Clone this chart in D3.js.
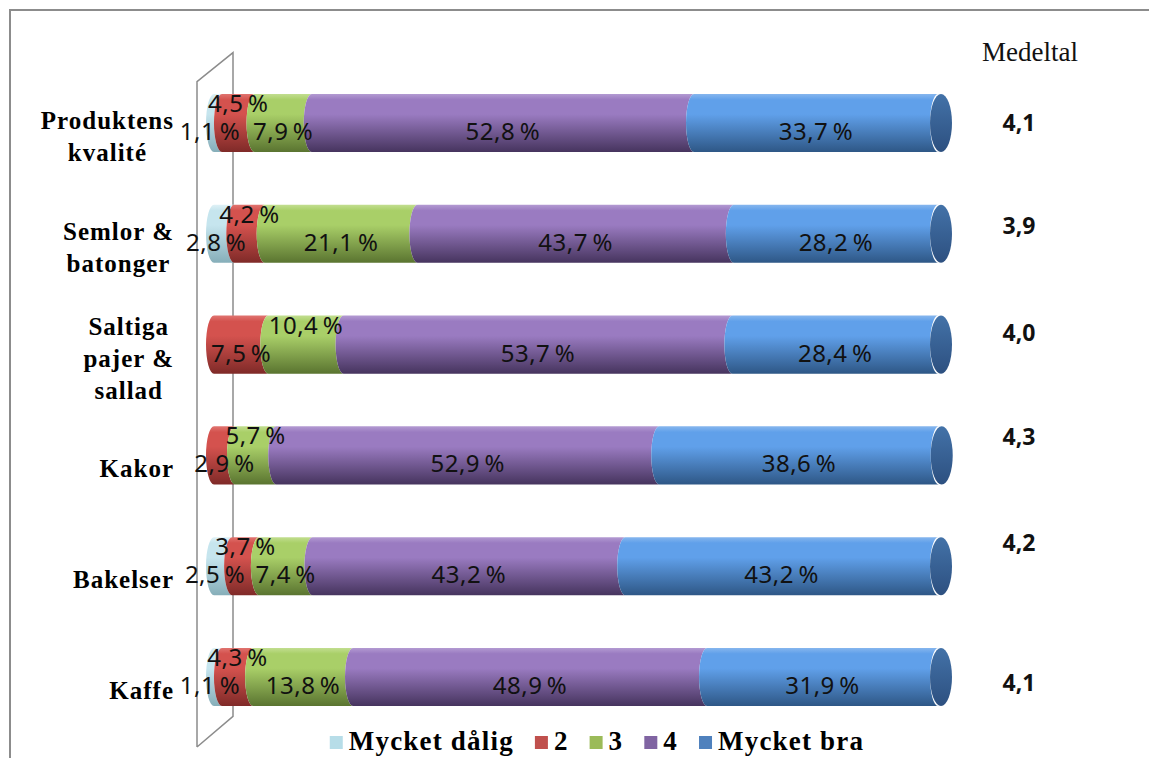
<!DOCTYPE html>
<html>
<head>
<meta charset="utf-8">
<script src="https://cdn.jsdelivr.net/npm/d3@7"></script>
<style>
  body { margin: 0; background: #fff; }
  svg { display: block; }
</style>
</head>
<body>
<svg width="1149" height="758"></svg>
<script>
// betyg per kategori, i procent
const categories = ["Produktens\nkvalité", "Semlor &\nbatonger", "Saltiga\npajer &\nsallad", "Kakor", "Bakelser", "Kaffe"];
const seriesNames = ["Mycket dålig", "2", "3", "4", "Mycket bra"];
const mycketDalig = [1.1, 2.8, 0, 0, 2.5, 1.1];
const betyg2 = [4.5, 4.2, 7.5, 2.9, 3.7, 4.3];
const betyg3 = [7.9, 21.1, 10.4, 5.7, 7.4, 13.8];
const betyg4 = [52.8, 43.7, 53.7, 52.9, 43.2, 48.9];
const mycketBra = [33.7, 28.2, 28.4, 38.6, 43.2, 31.9];
const medeltal = [4.1, 3.9, 4.0, 4.3, 4.2, 4.1];

const flatColors = ["#b7dde8", "#c0504d", "#9bbb59", "#8064a2", "#4f81bd"];
const tubeColors = [
  ["#dff1f6", "#c6e5ee", "#86aeb9"],
  ["#e07470", "#d4524e", "#7f2a28"],
  ["#c2de90", "#a9cf68", "#5a7430"],
  ["#b39ad2", "#9a7bc1", "#46345e"],
  ["#86b6ee", "#60a0ea", "#2e5786"]
];
// small nudges for the hand placed mean values
const meanNudge = [0, -8, -12, -18, -23, 6];

const svg = d3.select("svg");
const width = +svg.attr("width");
const height = +svg.attr("height");

const table = categories.map((c, i) => ({
  cat: c,
  [seriesNames[0]]: mycketDalig[i],
  [seriesNames[1]]: betyg2[i],
  [seriesNames[2]]: betyg3[i],
  [seriesNames[3]]: betyg4[i],
  [seriesNames[4]]: mycketBra[i]
}));
const stacked = d3.stack().keys(seriesNames)(table);

const xScale = d3.scaleLinear().domain([0, 100]).range([214, 938]);
const yScale = d3.scaleBand()
  .domain(categories)
  .range([67.6, 732.4])
  .paddingInner(0.476)
  .paddingOuter(0.238);
const bh = yScale.bandwidth();
const rx = 8;

// gradients for the cylinders
const defs = svg.append("defs");
tubeColors.forEach((c, i) => {
  const g = defs.append("linearGradient").attr("id", "tube" + i)
    .attr("x1", 0).attr("y1", 0).attr("x2", 0).attr("y2", 1);
  g.append("stop").attr("offset", "0").attr("stop-color", c[0]);
  g.append("stop").attr("offset", "0.1").attr("stop-color", c[1]);
  g.append("stop").attr("offset", "0.35").attr("stop-color", c[1]);
  g.append("stop").attr("offset", "1").attr("stop-color", c[2]);
});
const capGrad = defs.append("linearGradient").attr("id", "cap")
  .attr("x1", 0).attr("y1", 0).attr("x2", 0).attr("y2", 1);
capGrad.append("stop").attr("offset", "0").attr("stop-color", "#4372a8");
capGrad.append("stop").attr("offset", "1").attr("stop-color", "#2d5080");

// outer frame
svg.append("path")
  .attr("d", `M10,${height} V10 H${width}`)
  .attr("fill", "none")
  .attr("stroke", "#8c8c8c")
  .attr("stroke-width", 2);

// the 3d wall behind the category axis
const x0 = xScale(0);
const wallTop = yScale.range()[0];
const wallBot = yScale.range()[1];
svg.append("path")
  .attr("d", `M${x0 - 17},${height - 11} V${wallTop + 14} L${x0 + 19},${wallTop - 15} V${wallBot - 16} L${x0 - 17},${height - 11}`)
  .attr("fill", "none")
  .attr("stroke", "#8c8c8c")
  .attr("stroke-width", 1.5);

// cylinders
const segPath = (a, b, top) => {
  const ry = bh / 2;
  return `M${a},${top} L${b},${top} A${rx},${ry} 0 0 0 ${b},${top + bh} L${a},${top + bh} A${rx},${ry} 0 0 1 ${a},${top} Z`;
};

const bars = svg.append("g");
stacked.forEach((s, si) => {
  bars.append("g")
    .selectAll("path")
    .data(s.filter(d => d[1] - d[0] > 0))
    .join("path")
    .attr("d", d => segPath(xScale(d[0]), xScale(d[1]), yScale(d.data.cat)))
    .attr("fill", `url(#tube${si})`);
});
const last = stacked[stacked.length - 1];
bars.append("g")
  .selectAll("ellipse")
  .data(last)
  .join("ellipse")
  .attr("cx", d => xScale(d[1]) + 3)
  .attr("cy", d => yScale(d.data.cat) + bh / 2)
  .attr("rx", rx + 3)
  .attr("ry", bh / 2)
  .attr("fill", "url(#cap)");

// percent labels, small ones are lifted when they collide
const fmtPct = v => v.toFixed(1).replace(".", ",") + "\u2009%";
const labels = svg.append("g")
  .attr("font-family", "'Noto Sans', 'Open Sans', sans-serif")
  .attr("font-size", 24)
  .attr("letter-spacing", 0.5)
  .attr("fill", "#111");
categories.forEach((cat, r) => {
  const cy = yScale(cat) + bh / 2;
  let prev = null;
  stacked.forEach((s, si) => {
    const d = s[r];
    const v = d[1] - d[0];
    if (v <= 0) return;
    let cx = (xScale(d[0]) + xScale(d[1])) / 2;
    if (si === 0) cx -= 8;
    const t = labels.append("text")
      .attr("x", cx)
      .attr("y", cy + 17)
      .attr("text-anchor", "middle")
      .text(fmtPct(v));
    const w = t.node().getComputedTextLength();
    const box = [cx - w / 2, cx + w / 2];
    if (prev && box[0] < prev[1] + 4) {
      t.attr("y", cy - 11);
    } else {
      prev = box;
    }
  });
});

// category axis
const yAxis = d3.axisLeft(yScale).tickSize(0).tickPadding(0);
const yAxisG = svg.append("g")
  .attr("transform", `translate(${x0 - 40},0)`)
  .call(yAxis);
yAxisG.select(".domain").remove();
yAxisG.selectAll(".tick text").each(function(d) {
  const t = d3.select(this);
  const lines = d.split("\n");
  t.text(null)
    .attr("font-family", "'Liberation Serif', 'Times New Roman', serif")
    .attr("font-weight", "bold")
    .attr("font-size", 25)
    .attr("letter-spacing", 1)
    .attr("fill", "#000")
    .attr("text-anchor", "middle")
    .attr("dy", null);
  const spans = lines.map(l => t.append("tspan").text(l));
  const ws = spans.map(sp => sp.node().getComputedTextLength());
  const mw = d3.max(ws);
  const lh = 32;
  const y0 = 14 + 8 - (lines.length - 1) * lh / 2;
  spans.forEach((sp, i) => sp.attr("x", -mw / 2).attr("y", y0 + i * lh));
});

// medeltal column
svg.append("text")
  .attr("x", 1030)
  .attr("y", 61)
  .attr("text-anchor", "middle")
  .attr("font-family", "'Liberation Serif', 'Times New Roman', serif")
  .attr("font-size", 27)
  .attr("fill", "#111")
  .text("Medeltal");

svg.append("g")
  .selectAll("text")
  .data(medeltal)
  .join("text")
  .attr("x", 1019)
  .attr("y", (d, i) => yScale(categories[i]) + bh / 2 + 8 + meanNudge[i])
  .attr("text-anchor", "middle")
  .attr("font-family", "'Noto Sans', 'Open Sans', sans-serif")
  .attr("font-weight", "bold")
  .attr("font-size", 23)
  .attr("fill", "#111")
  .text(d => d.toFixed(1).replace(".", ","));

// legend
const legend = svg.append("g");
let lx = 0;
seriesNames.forEach((n, i) => {
  const item = legend.append("g").attr("transform", `translate(${lx},0)`);
  item.append("rect")
    .attr("x", 0).attr("y", -14)
    .attr("width", 13).attr("height", 13)
    .attr("fill", flatColors[i]);
  const t = item.append("text")
    .attr("x", 19)
    .attr("y", 0)
    .attr("font-family", "'Liberation Serif', 'Times New Roman', serif")
    .attr("font-weight", "bold")
    .attr("font-size", 27)
    .attr("letter-spacing", 1.2)
    .attr("fill", "#000")
    .text(n);
  lx += 19 + t.node().getComputedTextLength() + 21;
});
lx -= 21;
legend.attr("transform", `translate(${597 - lx / 2},750)`);
</script>
</body>
</html>
